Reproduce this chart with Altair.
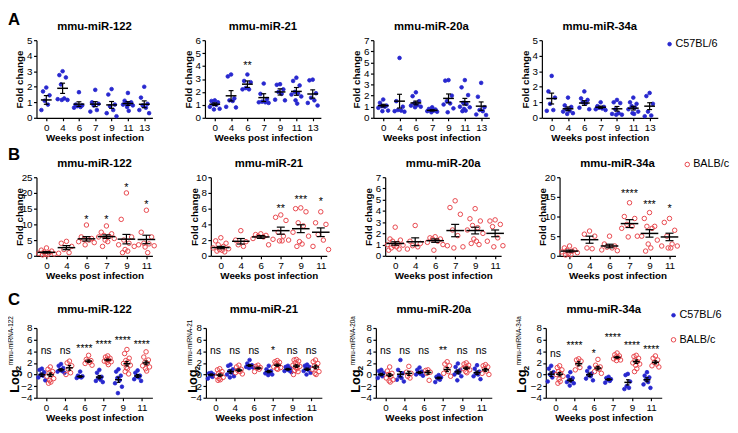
import json
import altair as alt
import pandas as pd

FONT = "Liberation Sans"
BLUE = "#2828cf"
RED = "#e8464c"
C57 = "C57BL/6"
BALB = "BALB/c"

WEEKS_A = ["0", "4", "6", "7", "9", "11", "13"]
WEEKS_BC = ["0", "4", "6", "7", "9", "11"]

# ---------------- Row A: C57BL/6 fold change ----------------
A_122 = [[1.95, 1.7, 1.45, 1.1, 0.85, 0.5],
         [3.0, 2.75, 2.6, 2.15, 1.25, 1.2, 1.15, 1.15],
         [1.65, 0.85, 0.8, 0.75, 0.7, 0.65],
         [1.8, 1.0, 0.9, 0.8, 0.5, 0.4],
         [1.85, 1.5, 0.85, 0.75, 0.5, 0.3, 0.1],
         [1.6, 1.1, 1.0, 0.95, 0.9, 0.85, 0.8, 0.7, 0.45],
         [2.0, 1.3, 0.9, 0.8, 0.65, 0.5, 0.3]]
A_122_MEAN = [1.15, 1.9, 0.88, 0.88, 0.83, 0.92, 0.87]
A_122_SEM = [0.28, 0.33, 0.15, 0.16, 0.22, 0.12, 0.22]

A_21 = [[1.35, 1.3, 1.2, 1.05, 1.0, 0.85, 0.7, 0.65],
        [3.35, 3.2, 1.5, 1.35, 1.3, 0.85, 0.8],
        [3.35, 2.85, 2.75, 2.3, 2.2, 2.2],
        [2.65, 1.85, 1.45, 1.25, 1.2, 1.2, 1.15],
        [2.6, 2.55, 2.2, 2.0, 1.85, 1.4, 1.35],
        [3.1, 2.85, 2.5, 2.0, 1.9, 1.8, 1.65, 1.35, 1.1],
        [2.95, 2.9, 1.9, 1.55, 1.35, 1.15, 0.95]]
A_21_MEAN = [1.05, 1.7, 2.6, 1.56, 2.0, 2.04, 1.84]
A_21_SEM = [0.1, 0.4, 0.25, 0.3, 0.24, 0.3, 0.32]
A_21_SIG = ["", "", "**", "", "", "", ""]
A_21_SIG_Y = [0, 0, 4.0, 0, 0, 0, 0]

A_20A = [[1.65, 1.35, 1.1, 1.05, 1.0, 0.9, 0.65, 0.6],
         [5.4, 1.5, 1.0, 0.7, 0.65, 0.6, 0.55],
         [2.3, 1.95, 1.5, 1.3, 1.15, 1.1, 1.0, 0.95],
         [0.95, 0.8, 0.75, 0.7, 0.65, 0.6, 0.55, 0.5],
         [3.4, 3.35, 2.0, 1.5, 1.3, 1.2, 0.85, 0.5],
         [3.4, 2.75, 2.05, 1.35, 1.25, 1.0, 0.95, 0.8, 0.65, 0.6],
         [3.15, 1.9, 0.95, 0.7, 0.6, 0.3, 0.25]]
A_20A_MEAN = [1.1, 1.5, 1.34, 0.67, 1.75, 1.45, 1.05]
A_20A_SEM = [0.12, 0.62, 0.17, 0.06, 0.4, 0.3, 0.38]

A_34A = [[2.7, 1.7, 1.3, 0.9, 0.5, 0.45],
         [1.3, 0.8, 0.7, 0.55, 0.45, 0.4, 0.3, 0.25],
         [1.7, 1.25, 1.15, 1.0, 0.95, 0.65, 0.55],
         [1.0, 0.75, 0.7, 0.65, 0.6, 0.55, 0.5],
         [1.15, 1.0, 0.95, 0.55, 0.3, 0.25, 0.2, 0.2],
         [1.3, 1.0, 0.9, 0.75, 0.65, 0.55, 0.4, 0.3, 0.25],
         [1.6, 1.4, 0.9, 0.4, 0.15, 0.1]]
A_34A_MEAN = [1.24, 0.58, 0.95, 0.68, 0.58, 0.62, 0.75]
A_34A_SEM = [0.35, 0.12, 0.15, 0.07, 0.15, 0.12, 0.22]

# ---------------- Row B: BALB/c fold change ----------------
B_122 = [[2.5, 1.8, 1.5, 1.2, 1.0, 0.8, 0.6, 0.5, 0.4, 0.3],
         [4.6, 4.0, 3.0, 2.0, 1.0, 0.8],
         [9.8, 6.0, 5.5, 5.2, 5.0, 4.5, 4.2, 3.5],
         [9.5, 7.5, 7.0, 6.5, 6.2, 6.0, 5.5, 5.0, 4.5, 3.0],
         [20.0, 11.6, 6.0, 5.0, 4.0, 3.5, 3.0, 2.0, 1.5, 1.0],
         [14.5, 7.5, 6.0, 4.0, 3.8, 3.5, 3.2, 2.8, 1.0]]
B_122_MEAN = [1.1, 2.6, 5.4, 6.1, 5.3, 5.2]
B_122_SEM = [0.22, 0.65, 0.7, 0.55, 1.5, 1.35]
B_122_SIG = ["", "", "*", "*", "*", "*"]
B_122_SIG_Y = [0, 0, 11.5, 11.5, 21.5, 16.2]

B_21 = [[2.3, 1.9, 1.6, 1.4, 1.2, 1.0, 0.9, 0.8, 0.7, 0.6, 0.5],
        [3.2, 2.0, 1.8, 1.4, 1.2],
        [2.8, 2.7, 2.6, 2.5, 2.4, 2.2, 1.4],
        [5.2, 4.9, 4.5, 3.0, 2.5, 2.1, 2.0, 1.9, 1.9],
        [6.1, 6.0, 5.6, 4.2, 3.8, 3.0, 2.5, 1.8, 1.5, 1.2],
        [5.6, 4.2, 4.0, 2.7, 2.0, 1.2, 0.8]]
B_21_MEAN = [1.05, 1.85, 2.4, 3.2, 3.45, 3.0]
B_21_SEM = [0.15, 0.35, 0.18, 0.45, 0.5, 0.55]
B_21_SIG = ["", "", "", "**", "***", "*"]
B_21_SIG_Y = [0, 0, 0, 6.0, 7.1, 6.8]

B_20A = [[2.55, 1.5, 1.4, 1.3, 1.1, 1.0, 0.95, 0.9, 0.8, 0.7, 0.6, 0.5],
         [2.7, 1.3, 1.1, 0.9, 0.8, 0.6],
         [1.7, 1.6, 1.5, 1.5, 1.3, 1.2, 1.0, 0.5],
         [4.9, 4.3, 3.7, 2.3, 1.8, 0.9, 0.8, 0.7],
         [4.2, 3.3, 3.1, 2.7, 2.5, 2.3, 2.0, 1.5, 1.3, 1.1, 1.0],
         [3.2, 3.1, 2.8, 2.6, 1.6, 1.3, 0.9, 0.8]]
B_20A_MEAN = [1.1, 1.25, 1.35, 2.25, 2.25, 2.0]
B_20A_SEM = [0.15, 0.35, 0.15, 0.55, 0.3, 0.3]

B_34A = [[2.5, 2.0, 1.5, 1.4, 1.2, 1.0, 0.8, 0.5, 0.3, 0.2],
         [6.3, 5.5, 5.0, 2.0, 1.8],
         [5.0, 3.0, 2.5, 2.2, 2.0, 1.5, 1.3],
         [13.5, 10.0, 9.5, 8.0, 7.5, 7.0, 5.0, 4.8],
         [11.0, 9.5, 7.5, 7.5, 7.0, 5.0, 4.0, 3.0, 2.0, 1.2],
         [9.5, 8.5, 6.5, 5.0, 3.0, 2.5, 2.5, 2.0, 2.0]]
B_34A_MEAN = [1.2, 4.1, 2.5, 8.2, 5.7, 4.8]
B_34A_SEM = [0.25, 0.9, 0.45, 1.0, 0.95, 0.95]
B_34A_SIG = ["", "", "", "****", "***", "*"]
B_34A_SIG_Y = [0, 0, 0, 15.6, 12.8, 11.9]

# ---------------- Row C: log2, both strains ----------------
C_122_B6 = [[1.0, 0.8, 0.4, 0.0, -0.2, -0.5, -1.0],
            [1.8, 1.5, 1.1, 0.8, 0.6, 0.5, 0.3],
            [0.5, -0.2, -0.3, -0.4, -0.5, -0.6],
            [0.8, 0.3, -0.4, -0.6, -0.9, -1.1, -1.3],
            [0.9, 0.5, -0.2, -0.6, -1.0, -1.5, -2.1, -3.2],
            [0.7, 0.3, -0.2, -0.3, -0.5, -0.8, -1.1]]
C_122_B6_MEAN = [-0.05, 0.8, -0.35, -0.45, -0.9, -0.25]
C_122_B6_SEM = [0.28, 0.2, 0.15, 0.28, 0.45, 0.25]
C_122_BC = [[1.3, 0.9, 0.5, 0.3, 0.0, -0.3, -0.7, -1.0, -1.3, -1.5],
            [2.3, 2.0, 1.5, 0.9, 0.3, 0.0],
            [3.3, 2.6, 2.4, 2.3, 2.1, 1.9, 1.6],
            [3.2, 3.0, 2.8, 2.6, 2.5, 2.3, 2.2, 2.1, 1.7],
            [4.3, 3.6, 2.8, 2.4, 2.2, 1.9, 1.6, 1.2, 1.0, 0.5, 0.1],
            [3.9, 3.0, 2.5, 2.1, 1.9, 1.5, 1.3, 1.0, 0.6]]
C_122_BC_MEAN = [-0.05, 1.15, 2.3, 2.5, 1.85, 2.0]
C_122_BC_SEM = [0.3, 0.4, 0.2, 0.15, 0.38, 0.32]
C_122_SIG = ["ns", "ns", "****", "****", "****", "****"]
C_122_SIG_Y = [4.1, 4.1, 4.4, 5.1, 5.8, 5.1]

C_21_B6 = [[0.3, 0.2, 0.0, -0.2, -0.4, -0.7],
           [1.7, 1.5, 0.9, 0.6, 0.3, 0.0, -0.3, -0.5],
           [2.5, 1.9, 1.6, 1.5, 1.4, 1.3, 1.2, 1.1],
           [1.5, 0.9, 0.6, 0.5, 0.3, 0.2, 0.0, -0.1],
           [1.5, 1.3, 1.1, 0.9, 0.7, 0.6, 0.4],
           [1.7, 1.5, 1.3, 1.0, 0.8, 0.6, 0.3, 0.0]]
C_21_B6_MEAN = [-0.05, 0.5, 1.55, 0.5, 0.9, 0.9]
C_21_B6_SEM = [0.15, 0.28, 0.16, 0.19, 0.15, 0.2]
C_21_BC = [[1.0, 0.8, 0.5, 0.2, 0.0, -0.3, -0.5, -0.7, -0.9, -1.0],
           [1.6, 1.3, 0.9, 0.7, 0.5, 0.3, 0.1],
           [1.6, 1.4, 1.2, 1.1, 0.9, 0.5],
           [2.4, 2.2, 2.1, 1.9, 1.6, 1.3, 1.2, 1.0, 0.9],
           [2.6, 2.5, 2.3, 2.0, 1.8, 1.6, 1.4, 1.2, 1.0, 0.7, 0.5, 0.0],
           [2.5, 2.2, 1.9, 1.5, 1.2, 0.9, 0.5, 0.2, 0.0]]
C_21_BC_MEAN = [-0.1, 0.75, 1.1, 1.6, 1.45, 1.3]
C_21_BC_SEM = [0.2, 0.2, 0.15, 0.18, 0.22, 0.3]
C_21_SIG = ["ns", "ns", "ns", "*", "ns", "ns"]
C_21_SIG_Y = [4.0, 4.0, 4.0, 4.0, 4.0, 4.0]

C_20A_B6 = [[0.8, 0.6, 0.3, 0.0, -0.3, -0.6],
            [2.5, 0.8, 0.2, -0.3, -0.6, -0.9, -1.2],
            [1.2, 0.8, 0.5, 0.3, 0.1, 0.0, -0.2],
            [-0.1, -0.4, -0.5, -0.7, -0.9, -1.3],
            [1.9, 1.3, 0.8, 0.5, 0.3, 0.0, -0.3, -1.0],
            [1.6, 1.0, 0.5, 0.2, 0.0, -0.3, -0.8]]
C_20A_B6_MEAN = [0.0, 0.05, 0.35, -0.6, 0.45, 0.3]
C_20A_B6_SEM = [0.2, 0.45, 0.18, 0.15, 0.32, 0.3]
C_20A_BC = [[1.3, 0.6, 0.2, 0.0, -0.3, -0.6, -0.9, -1.1, -1.3],
            [1.4, 0.4, 0.2, -0.3, -0.6],
            [0.8, 0.7, 0.4, 0.2, -1.0],
            [2.2, 1.8, 1.5, 1.0, 0.5, 0.2, -0.3],
            [2.0, 1.8, 1.6, 1.3, 1.1, 1.0, 0.8, 0.5, 0.3],
            [1.7, 1.5, 1.3, 1.0, 0.6, 0.2, 0.0]]
C_20A_BC_MEAN = [-0.1, 0.2, 0.35, 0.85, 1.1, 0.8]
C_20A_BC_SEM = [0.25, 0.35, 0.3, 0.35, 0.2, 0.25]
C_20A_SIG = ["ns", "ns", "ns", "**", "ns", "ns"]
C_20A_SIG_Y = [4.0, 4.0, 4.0, 4.0, 4.0, 4.0]

C_34A_B6 = [[1.5, 1.0, 0.4, 0.0, -0.5, -1.2],
            [0.4, -0.3, -0.6, -0.9, -1.1, -1.3, -1.5, -1.9],
            [1.2, 0.6, 0.2, -0.1, -0.3, -0.7, -1.0],
            [-0.4, -0.6, -0.8, -0.9, -1.1, -1.4],
            [0.1, -0.1, -1.2, -2.0, -2.3, -2.5],
            [0.4, -0.2, -0.5, -0.9, -1.3, -1.7, -2.3]]
C_34A_B6_MEAN = [0.05, -1.0, -0.05, -0.85, -1.35, -0.9]
C_34A_B6_SEM = [0.4, 0.25, 0.3, 0.15, 0.45, 0.35]
C_34A_BC = [[1.5, 1.2, 0.8, 0.5, 0.2, 0.0, -0.3, -0.8, -1.2, -1.5],
            [2.7, 2.5, 2.3, 1.8, 1.2, 0.8],
            [2.6, 1.6, 1.3, 1.1, 0.9, 0.5, 0.2],
            [3.7, 3.4, 3.2, 3.0, 2.9, 2.7, 2.5, 2.4],
            [3.3, 3.1, 2.8, 2.5, 2.2, 2.0, 1.8, 1.6, 1.0, 0.5],
            [3.2, 2.8, 2.5, 2.1, 1.8, 1.5, 1.3]]
C_34A_BC_MEAN = [0.05, 1.85, 1.1, 2.95, 2.2, 2.1]
C_34A_BC_SEM = [0.3, 0.35, 0.3, 0.15, 0.3, 0.25]
C_34A_SIG = ["ns", "****", "*", "****", "****", "****"]
C_34A_SIG_Y = [3.5, 4.9, 3.5, 6.3, 4.9, 4.2]

# ---------------- builders ----------------
JIT = [0, -1, 1, -0.5, 0.5, -1.5, 1.5, -0.25, 0.25, -0.75, 0.75, -1.25, 1.25]

W = 118
H_A, H_B, H_C = 79, 80, 71
XDOM_A = [-0.6, 6.5]
XDOM_B = [-0.5, 5.3]
XDOM_C = [-0.5, 5.55]


def ser(strain, values, mean, sem, off, jit, half, cap):
    return dict(strain=strain, values=values, mean=mean, sem=sem,
                off=off, jit=jit, half=half, cap=cap)


def text_layer(t, x, y, size, weight="normal", angle=0, align="left", baseline="middle"):
    return alt.Chart(pd.DataFrame({"t": [t]})).mark_text(
        font=FONT, fontSize=size, fontWeight=weight, angle=angle, align=align,
        baseline=baseline, color="black").encode(
        x=alt.value(x), y=alt.value(y), text="t:N")


def legend_layers(entries):
    out = []
    for strain, ly in entries:
        blue = strain == C57
        out.append(alt.Chart(pd.DataFrame({"s": [strain]})).mark_point(
            shape="circle", size=14 if blue else 21, strokeWidth=0.8 if blue else 1.0,
            fill=BLUE if blue else "transparent", stroke=BLUE if blue else RED,
            opacity=1).encode(x=alt.value(W + 12), y=alt.value(ly)))
        out.append(text_layer(strain, W + 18, ly, 11))
    return out


def panel(title, weeks, series, ydom, ystep, h, xdom, ty, ytitle=None,
          sig=None, sig_y=None, extras=(), legend=(), sig_size=11):
    xs = alt.Scale(domain=xdom, nice=False, zero=False)
    ys = alt.Scale(domain=ydom, nice=False, zero=False)
    xaxis = alt.Axis(values=list(range(len(weeks))),
                     labelExpr=json.dumps(weeks) + "[datum.value]",
                     title="Weeks post infection")
    yvals = list(range(ydom[0], ydom[1] + 1, ystep))
    if ytitle:
        yaxis = alt.Axis(values=yvals, title=ytitle, titleX=-17, titleY=h / 2,
                         titleAngle=270, titleAlign="center", titleBaseline="middle")
    else:
        yaxis = alt.Axis(values=yvals, title=None)

    def X(f):
        return alt.X(f, type="quantitative", scale=xs, axis=xaxis)

    def Y(f):
        return alt.Y(f, type="quantitative", scale=ys, axis=yaxis)

    layers, stats, caps = [], [], []
    for s in series:
        rows = []
        for i, vals in enumerate(s["values"]):
            for k, v in enumerate(vals):
                rows.append({"x": i + s["off"] + JIT[k % len(JIT)] * s["jit"], "y": v})
            m, e = s["mean"][i], s["sem"][i]
            c = i + s["off"]
            stats.append({"x": c, "xl": c - s["half"], "xr": c + s["half"],
                          "m": m, "lo": m - e, "hi": m + e})
            for yy in (m - e, m + e):
                caps.append({"xl": c - s["cap"], "xr": c + s["cap"], "y": yy})
        blue = s["strain"] == C57
        layers.append(alt.Chart(pd.DataFrame(rows)).mark_point(
            shape="circle", size=14 if blue else 21, strokeWidth=0.8 if blue else 1.0,
            fill=BLUE if blue else "transparent", stroke=BLUE if blue else RED,
            opacity=1).encode(x=X("x"), y=Y("y")))
    sdf, cdf = pd.DataFrame(stats), pd.DataFrame(caps)
    layers.append(alt.Chart(sdf).mark_rule(color="black", strokeWidth=1.2).encode(
        x=X("x"), y=Y("lo"), y2="hi"))
    layers.append(alt.Chart(cdf).mark_rule(color="black", strokeWidth=1.2).encode(
        x=X("xl"), x2="xr", y=Y("y")))
    layers.append(alt.Chart(sdf).mark_rule(color="black", strokeWidth=1.5).encode(
        x=X("xl"), x2="xr", y=Y("m")))
    if sig:
        gdf = pd.DataFrame({"x": list(range(len(sig))), "y": sig_y, "t": sig})
        gdf = gdf[gdf["t"] != ""]
        layers.append(alt.Chart(gdf).mark_text(
            font=FONT, fontSize=sig_size, baseline="middle", color="black").encode(
            x=X("x"), y=Y("y"), text="t:N"))
    layers.append(text_layer(title, W / 2, ty, 11.5, "bold", 0, "center", "middle"))
    for ex in extras:
        layers.append(text_layer(*ex))
    layers += legend_layers(legend)
    return alt.layer(*layers).properties(width=W, height=h)


def sA(v, m, e):
    return [ser(C57, v, m, e, 0, 0.2, 0.33, 0.15)]


def sB(v, m, e):
    return [ser(BALB, v, m, e, 0, 0.26, 0.44, 0.2)]


def sC(v1, m1, e1, v2, m2, e2):
    return [ser(C57, v1, m1, e1, -0.22, 0.12, 0.18, 0.09),
            ser(BALB, v2, m2, e2, 0.22, 0.12, 0.18, 0.09)]


def c_title(lx, sup):
    return [("Log", lx, 66, 13, "bold", 270, "left", "middle"),
            ("2", lx + 4.5, 43, 8, "bold", 270, "left", "middle"),
            (sup, lx - 3.5, 38, 6.5, "normal", 270, "left", "middle")]


rowA = [
    panel("mmu-miR-122", WEEKS_A, sA(A_122, A_122_MEAN, A_122_SEM), [0, 5], 1, H_A, XDOM_A, -13,
          ytitle="Fold change", extras=[("A", -29, -28, 17, "bold", 0, "left", "top")]),
    panel("mmu-miR-21", WEEKS_A, sA(A_21, A_21_MEAN, A_21_SEM), [0, 6], 1, H_A, XDOM_A, -13,
          ytitle="Fold change", sig=A_21_SIG, sig_y=A_21_SIG_Y),
    panel("mmu-miR-20a", WEEKS_A, sA(A_20A, A_20A_MEAN, A_20A_SEM), [0, 7], 1, H_A, XDOM_A, -13,
          ytitle="Fold change"),
    panel("mmu-miR-34a", WEEKS_A, sA(A_34A, A_34A_MEAN, A_34A_SEM), [0, 5], 1, H_A, XDOM_A, -13,
          ytitle="Fold change", legend=[(C57, 4)]),
]
rowB = [
    panel("mmu-miR-122", WEEKS_BC, sB(B_122, B_122_MEAN, B_122_SEM), [0, 25], 5, H_B, XDOM_B, -13,
          ytitle="Fold change", sig=B_122_SIG, sig_y=B_122_SIG_Y,
          extras=[("B", -29, -31, 17, "bold", 0, "left", "top")]),
    panel("mmu-miR-21", WEEKS_BC, sB(B_21, B_21_MEAN, B_21_SEM), [0, 10], 2, H_B, XDOM_B, -13,
          ytitle="Fold change", sig=B_21_SIG, sig_y=B_21_SIG_Y),
    panel("mmu-miR-20a", WEEKS_BC, sB(B_20A, B_20A_MEAN, B_20A_SEM), [0, 7], 1, H_B, XDOM_B, -13,
          ytitle="Fold change"),
    panel("mmu-miR-34a", WEEKS_BC, sB(B_34A, B_34A_MEAN, B_34A_SEM), [0, 20], 5, H_B, XDOM_B, -13,
          ytitle="Fold change", sig=B_34A_SIG, sig_y=B_34A_SIG_Y, legend=[(BALB, -13)]),
]
rowC = [
    panel("mmu-miR-122", WEEKS_BC,
          sC(C_122_B6, C_122_B6_MEAN, C_122_B6_SEM, C_122_BC, C_122_BC_MEAN, C_122_BC_SEM),
          [-4, 8], 2, H_C, XDOM_C, -18, sig=C_122_SIG, sig_y=C_122_SIG_Y, sig_size=10.5,
          extras=[("C", -29, -36, 17, "bold", 0, "left", "top")] + c_title(-22, "mmu-miRNA-122")),
    panel("mmu-miR-21", WEEKS_BC,
          sC(C_21_B6, C_21_B6_MEAN, C_21_B6_SEM, C_21_BC, C_21_BC_MEAN, C_21_BC_SEM),
          [-4, 8], 2, H_C, XDOM_C, -18, sig=C_21_SIG, sig_y=C_21_SIG_Y, sig_size=10.5,
          extras=c_title(-13, "mmu-miRNA-21")),
    panel("mmu-miR-20a", WEEKS_BC,
          sC(C_20A_B6, C_20A_B6_MEAN, C_20A_B6_SEM, C_20A_BC, C_20A_BC_MEAN, C_20A_BC_SEM),
          [-4, 8], 2, H_C, XDOM_C, -18, sig=C_20A_SIG, sig_y=C_20A_SIG_Y, sig_size=10.5,
          extras=c_title(-20, "mmu-miRNA-20a")),
    panel("mmu-miR-34a", WEEKS_BC,
          sC(C_34A_B6, C_34A_B6_MEAN, C_34A_B6_SEM, C_34A_BC, C_34A_BC_MEAN, C_34A_BC_SEM),
          [-4, 8], 2, H_C, XDOM_C, -18, sig=C_34A_SIG, sig_y=C_34A_SIG_Y, sig_size=10.5,
          extras=c_title(-24, "mmu-miRNA-34a"), legend=[(C57, -13), (BALB, 12)]),
]

RES = dict(x="independent", y="independent")


def hc(a, b, sp):
    return alt.hconcat(a, b, spacing=sp).resolve_scale(**RES)


def vc(a, b, sp):
    return alt.vconcat(a, b, spacing=sp).resolve_scale(**RES)


def row(p, gaps):
    # nested so that each gap between panels can differ
    right = hc(p[2], p[3], gaps[2])
    right = hc(p[1], right, gaps[1])
    return hc(p[0], right, gaps[0])


GAPS_AB = [30.5, 30.5, 30.5]
GAPS_C = [32.5, 26, 22]

chart = vc(row(rowA, GAPS_AB), vc(row(rowB, GAPS_AB), row(rowC, GAPS_C), 10.5), 2.5)

chart = chart.properties(padding=0).configure_view(stroke=None).configure_axis(
    domainColor="black", tickColor="black", labelColor="black", titleColor="black",
    grid=False, labelFont=FONT, titleFont=FONT, labelFontSize=10, titleFontSize=10,
    titleFontWeight="bold", tickSize=3, domainWidth=1.2, tickWidth=1.2, labelPadding=1.5
).configure_axisX(labelAngle=0, titlePadding=1)

chart.save("out.html", embed_options={"renderer": "svg", "actions": False})
